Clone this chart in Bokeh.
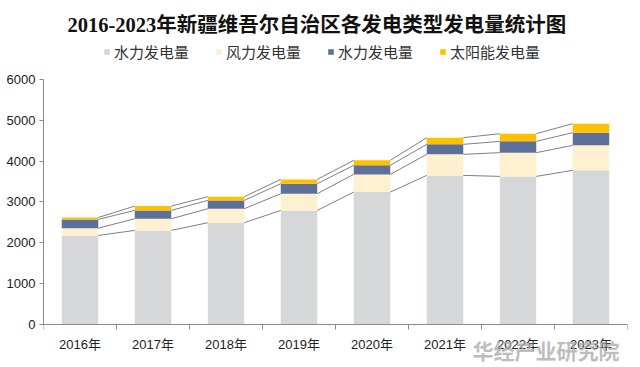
import numpy as np
from bokeh.plotting import figure
from bokeh.models import FixedTicker, Legend, LegendItem, Label, Range1d
from bokeh.embed import file_html
from bokeh.resources import INLINE

years = ["2016年", "2017年", "2018年", "2019年", "2020年", "2021年", "2022年", "2023年"]
thermal = [2181, 2304, 2492, 2794, 3243, 3652, 3627, 3775]
wind = [179, 286, 343, 409, 433, 515, 581, 612]
hydro = [213, 204, 204, 245, 221, 245, 277, 311]
solar = [47, 106, 91, 106, 123, 163, 188, 220]
series_names = ["水力发电量", "风力发电量", "水力发电量", "太阳能发电量"]
colors = ["#D6D7D9", "#FFF0CF", "#5C709A", "#FFC000"]
y_ticks = [0, 1000, 2000, 3000, 4000, 5000, 6000]

FONT = "Liberation Sans, Noto Sans CJK SC"

p = figure(frame_width=584, frame_height=327, output_backend="svg", toolbar_location=None,
           x_range=Range1d(-0.5, len(years) - 0.5), y_range=Range1d(-1053, 6955),
           min_border_left=43, min_border_right=5, min_border_bottom=0, min_border_top=40)
p.outline_line_color = None
p.grid.visible = False

idx = np.arange(len(years))
bottom = np.zeros(len(years))
items = []
tops = []
for name, vals, col in zip(series_names, [thermal, wind, hydro, solar], colors):
    top = bottom + np.array(vals)
    r = p.vbar(x=idx, bottom=bottom, top=top, width=0.5, fill_color=col, line_color=None)
    items.append(LegendItem(label=name, renderers=[r]))
    tops.append(top)
    bottom = top

for top in tops:
    p.segment(x0=idx[:-1] + 0.25, x1=idx[1:] - 0.25, y0=top[:-1], y1=top[1:],
              line_color="#808080", line_width=1)

# axes
p.yaxis.ticker = FixedTicker(ticks=y_ticks, minor_ticks=[])
p.yaxis.bounds = (0, 6000)
p.yaxis.axis_line_color = "#8C8C8C"
p.yaxis.major_tick_line_color = "#8C8C8C"
p.yaxis.major_tick_out = 4
p.yaxis.major_tick_in = 0
p.yaxis.major_label_text_font = FONT
p.yaxis.major_label_text_font_size = "13px"
p.yaxis.major_label_text_color = "#222222"
p.yaxis.major_label_standoff = 4

p.xaxis.fixed_location = 0
p.xaxis.ticker = FixedTicker(ticks=list(idx), minor_ticks=list(np.arange(len(years) + 1) - 0.5))
p.xaxis.major_label_overrides = {int(i): y for i, y in zip(idx, years)}
p.xaxis.axis_line_color = "#8C8C8C"
p.xaxis.major_tick_line_color = None
p.xaxis.minor_tick_line_color = "#8C8C8C"
p.xaxis.minor_tick_out = 5
p.xaxis.minor_tick_in = 0
p.xaxis.major_label_text_font = FONT
p.xaxis.major_label_text_font_size = "13px"
p.xaxis.major_label_text_color = "#222222"
p.xaxis.major_label_standoff = 6

# title
p.title.text = "2016-2023年新疆维吾尔自治区各发电类型发电量统计图"
p.title.align = "left"
p.title.offset = 24
p.title.text_font = "Liberation Serif, Noto Sans CJK SC"
p.title.text_font_size = "20.5px"
p.title.text_font_style = "bold"
p.title.text_color = "#111111"

legend = Legend(items=items, orientation="horizontal", location=(60, 305),
                glyph_width=7, glyph_height=7, label_text_font=FONT,
                label_text_font_size="15px", label_text_color="#333333",
                spacing=26, label_standoff=4, border_line_color=None,
                background_fill_alpha=0, padding=0, margin=0)
p.add_layout(legend, "center")

wm = Label(x=429, y=3, x_units="screen", y_units="screen", text="华经产业研究院",
           text_font="Noto Sans CJK SC", text_font_size="21px", text_color="#A8A8A8",
           text_alpha=0.75, text_font_style="bold")
p.add_layout(wm)

open("out.html", "w").write(file_html(p, INLINE))
